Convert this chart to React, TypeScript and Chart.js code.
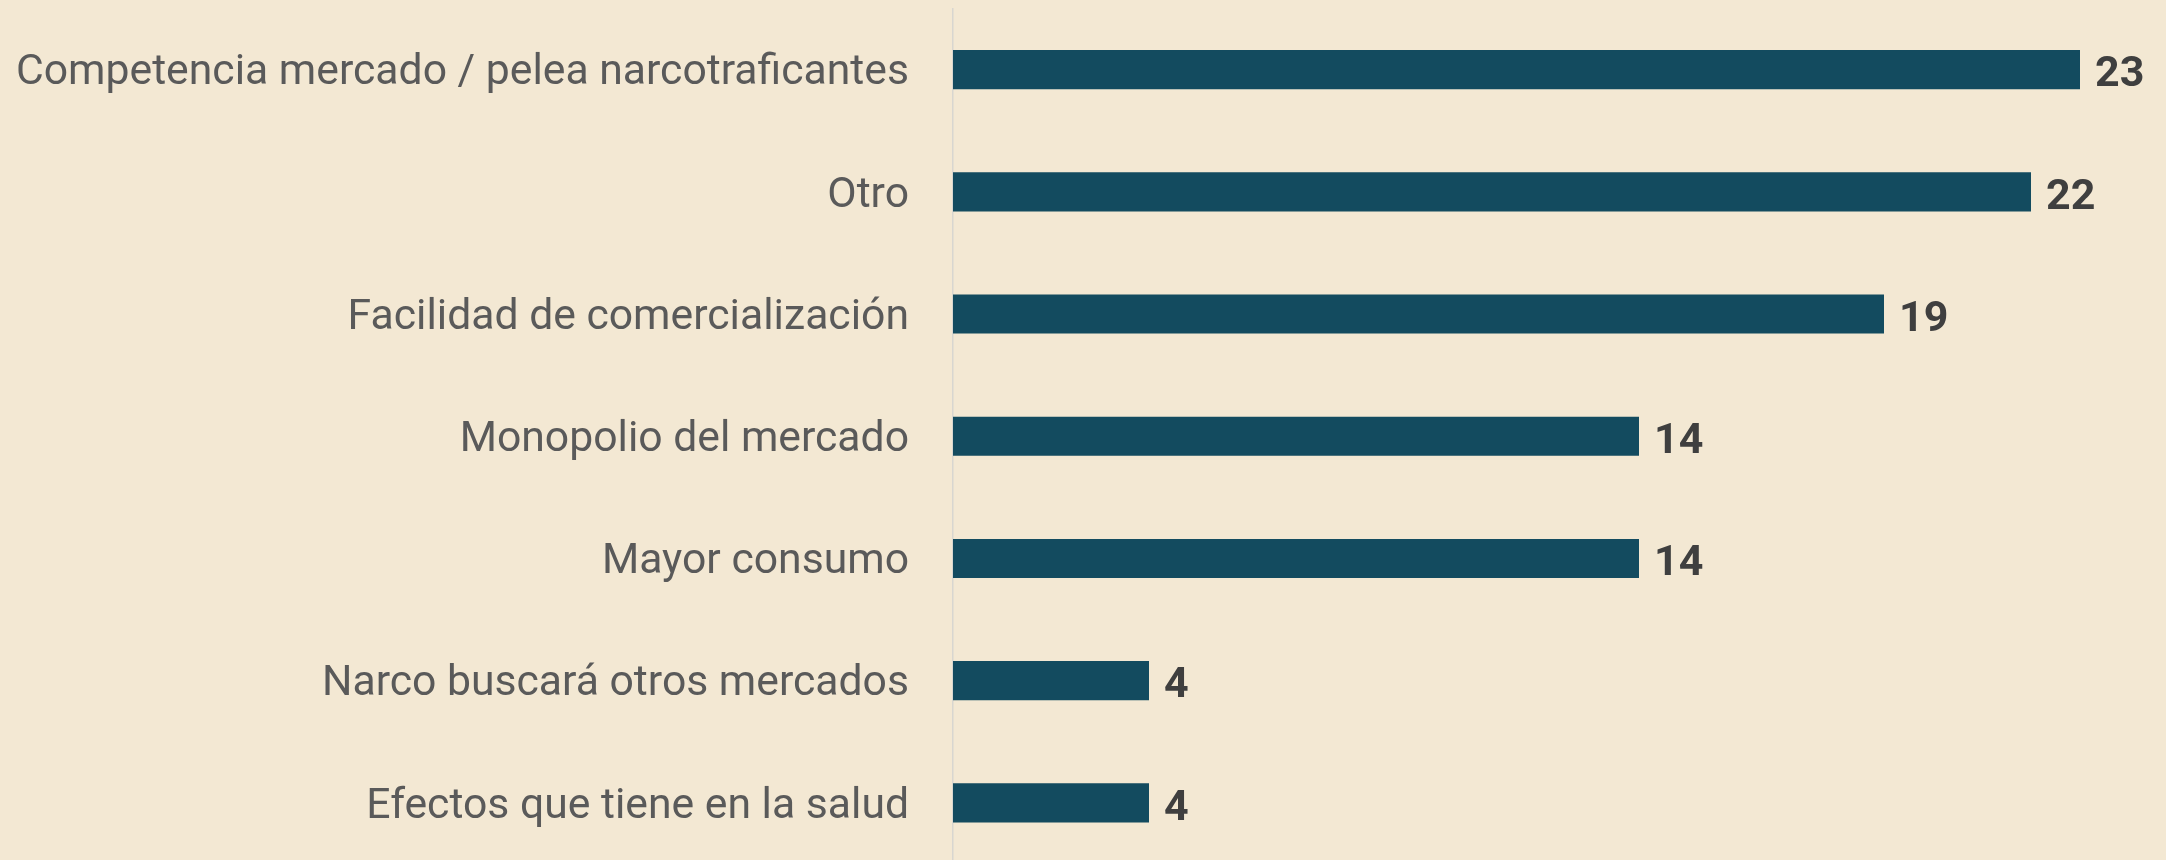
import React, { useEffect, useRef } from "react";
import { Chart, registerables } from "chart.js";

Chart.register(...registerables);

const categories = [
  "Competencia mercado / pelea narcotraficantes",
  "Otro",
  "Facilidad de comercialización",
  "Monopolio del mercado",
  "Mayor consumo",
  "Narco buscará otros mercados",
  "Efectos que tiene en la salud",
];
const values = [23, 22, 19, 14, 14, 4, 4];

const BG = "#F3E8D3";
const BAR = "#134B5F";

const valueLabels = {
  id: "valueLabels",
  afterDatasetsDraw(chart: any) {
    const ctx = chart.ctx;
    const meta = chart.getDatasetMeta(0);
    ctx.save();
    ctx.font = "bold 43px Roboto";
    ctx.fillStyle = "#3f3f3f";
    ctx.textAlign = "left";
    ctx.textBaseline = "middle";
    meta.data.forEach((bar: any, i: number) => {
      ctx.fillText(String(values[i]), bar.x + 15, bar.y + 6);
    });
    ctx.restore();
  },
};

export default function App() {
  const ref = useRef<HTMLCanvasElement>(null);
  useEffect(() => {
    document.body.style.background = BG;
    const chart = new Chart(ref.current!, {
      type: "bar",
      data: {
        labels: categories,
        datasets: [
          {
            data: values,
            backgroundColor: BAR,
            borderWidth: 0,
            barPercentage: 0.32,
            categoryPercentage: 1,
          },
        ],
      },
      options: {
        indexAxis: "y",
        animation: false,
        responsive: false,
        maintainAspectRatio: false,
        layout: { padding: { top: 8.5, right: 37, left: 0, bottom: 0 } },
        plugins: { legend: { display: false }, tooltip: { enabled: false } },
        scales: {
          x: { display: false, min: 0, max: 24 },
          y: {
            grid: { display: false, drawTicks: false },
            border: { display: true, color: "#d8d6d0", width: 1.5 },
            ticks: {
              color: "#5a5a5a",
              font: { family: "Roboto", size: 42.7 },
              padding: 44,
              labelOffset: 4,
            },
            afterFit: (scale: any) => {
              scale.width = 953;
              scale.paddingTop = 0;
              scale.paddingBottom = 0;
            },
          },
        },
      },
      plugins: [valueLabels],
    });
    return () => chart.destroy();
  }, []);
  return (
    <div
      style={{
        position: "fixed",
        left: 0,
        top: 0,
        width: 2166,
        height: 864,
        background: BG,
      }}
    >
      <canvas ref={ref} width={2166} height={864} style={{ display: "block" }} />
    </div>
  );
}
